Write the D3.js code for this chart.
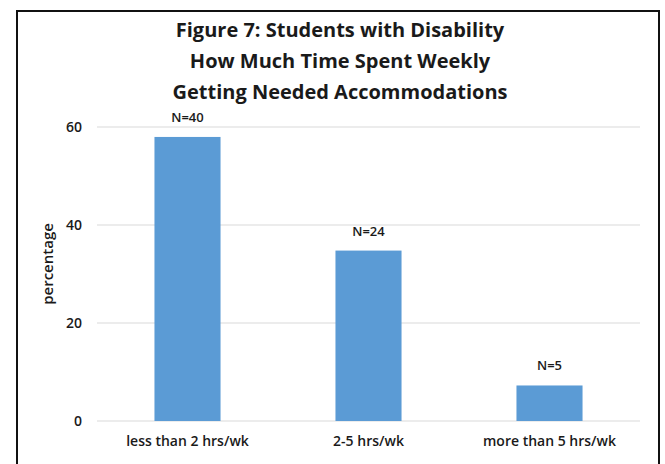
<!doctype html>
<html>
<head>
<style type="text/css">
body { margin: 0; background: #fff; }
text { font-family: "Open Sans", sans-serif; fill: #1a1a1a; }
.title { font-size: 20px; font-weight: 700; text-anchor: middle; }
.tick text { font-size: 14px; font-weight: 600; }
.nlab { font-size: 13px; font-weight: 600; text-anchor: middle; }
</style>
</head>
<body>
<svg width="665" height="464"></svg>
<script src="https://d3js.org/d3.v7.min.js"></script>
<script>
var categories = ["less than 2 hrs/wk", "2-5 hrs/wk", "more than 5 hrs/wk"];
var percents = [57.97, 34.78, 7.25];
var counts = ["N=40", "N=24", "N=5"];
var yTicks = [0, 20, 40, 60];
var titleLines = ["Figure 7: Students with Disability", "How Much Time Spent Weekly", "Getting Needed Accommodations"];

var svg = d3.select("svg");

// outer frame
svg.append("rect")
  .attr("x", 17).attr("y", 11)
  .attr("width", 642).attr("height", 470)
  .attr("fill", "none").attr("stroke", "#111").attr("stroke-width", 2);

var x = d3.scaleBand().domain(categories).range([97, 640]).paddingInner(0.635).paddingOuter(0.3175);
var y = d3.scaleLinear().domain([0, 60]).range([421, 127]);

// gridlines
svg.append("g").selectAll("line").data(yTicks).enter().append("line")
  .attr("x1", 97).attr("x2", 640)
  .attr("y1", function(d) { return y(d); }).attr("y2", function(d) { return y(d); })
  .attr("stroke", "#d9d9d9").attr("stroke-width", 1);

// y axis labels
var yAxis = d3.axisLeft(y).tickValues(yTicks).tickSize(0).tickPadding(15);
svg.append("g").attr("transform", "translate(97,0)").call(yAxis)
  .call(function(g) { g.select(".domain").remove(); });

// x axis labels
var xAxis = d3.axisBottom(x).tickSize(0).tickPadding(15);
svg.append("g").attr("transform", "translate(0," + y(0) + ")").call(xAxis)
  .call(function(g) { g.select(".domain").remove(); });

// bars
svg.append("g").selectAll("rect").data(percents).enter().append("rect")
  .attr("x", function(d, i) { return x(categories[i]); })
  .attr("y", function(d) { return y(d); })
  .attr("width", x.bandwidth())
  .attr("height", function(d) { return y(0) - y(d); })
  .attr("fill", "#5b9bd5");

// N labels
svg.append("g").selectAll("text").data(percents).enter().append("text")
  .attr("class", "nlab")
  .attr("x", function(d, i) { return x(categories[i]) + x.bandwidth() / 2; })
  .attr("y", function(d) { return y(d) - 15; })
  .text(function(d, i) { return counts[i]; });

// title
svg.append("g").selectAll("text").data(titleLines).enter().append("text")
  .attr("class", "title")
  .attr("x", 340)
  .attr("y", function(d, i) { return 37 + i * 31; })
  .text(function(d) { return d; });

// y axis title
svg.append("text")
  .attr("transform", "translate(53,264) rotate(-90)")
  .attr("text-anchor", "middle")
  .style("font-size", "15px").style("font-weight", 600)
  .text("percentage");
</script>
</body>
</html>
